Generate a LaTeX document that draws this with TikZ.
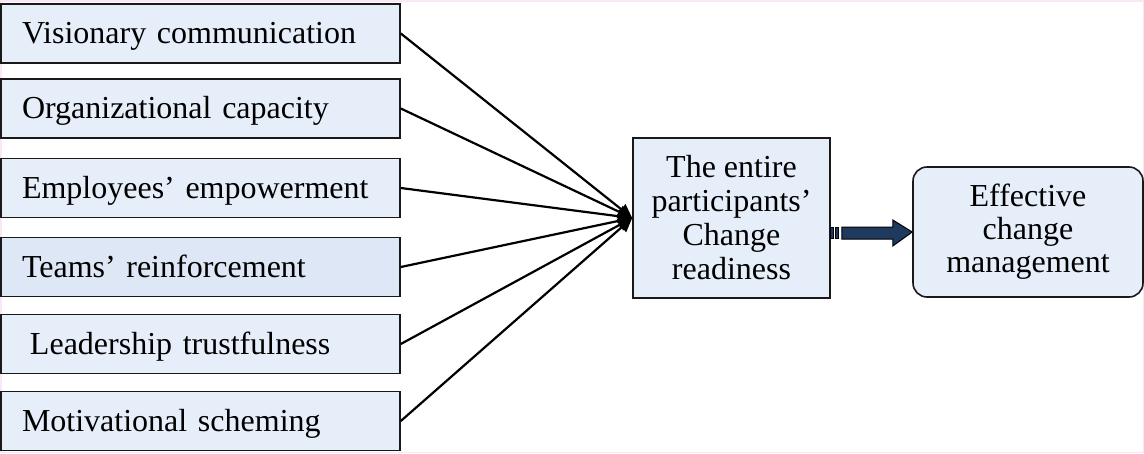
\documentclass[tikz,border=0pt]{standalone}
\usepackage{fontspec}
\setmainfont{Liberation Serif}
\usetikzlibrary{arrows.meta,calc}
\definecolor{boxfill}{HTML}{E6EEF9}
\definecolor{boxfillb}{HTML}{DDE7F5}
\definecolor{navy}{HTML}{1F3A5F}
\definecolor{framepink}{HTML}{FBE6F6}
\begin{document}
\begin{tikzpicture}[x=1pt,y=-1pt,
  factor/.style={draw=black!90, line width=1.6pt, fill=boxfill,
    minimum width=399pt, minimum height=59pt, text width=357pt,
    inner xsep=21pt, inner ysep=0pt, align=left,
    text height=23pt, text depth=3pt, font=\fontsize{32}{34}\selectfont},
  core/.style={draw=black!90, line width=1.6pt, fill=boxfill,
    minimum width=197pt, minimum height=160pt, inner sep=0pt,
    align=center, font=\fontsize{32}{34}\selectfont},
  outcome/.style={core, rounded corners=14pt, minimum width=230pt,
    minimum height=130pt, font=\fontsize{32}{33}\selectfont},
  link/.style={black, line width=2.2pt, -{Triangle[length=14pt,width=13pt]}},
  bigarrow/.style={fill=navy, draw=black, line width=1pt}
]
\useasboundingbox (0,0) rectangle (1144,453);
\draw[framepink, line width=1.5pt] (0.75,0.75) rectangle (1143.25,452.25);

\node[factor] (f1) at (200.5,33.5) {Visionary communication};
\node[factor] (f2) at (200.5,108.5) {Organizational capacity};
\node[factor] (f3) at (200.5,188) {Employees’ empowerment};
\node[factor, fill=boxfillb] (f4) at (200.5,267) {Teams’ reinforcement};
\node[factor] (f5) at (200.5,344) {\hspace*{8pt}Leadership trustfulness};
\node[factor] (f6) at (200.5,421) {Motivational scheming};

\node[core] (mid) at (731.5,218) {The entire\\participants’\\Change\\readiness};
\node[outcome] (eff) at (1028,232) {Effective\\change\\management};

\foreach \i in {1,...,6} \draw[link] (f\i.east) -- (mid.west);

\coordinate (a0) at (mid.east |- eff.west);
\filldraw[bigarrow] ($(a0)+(0,-5)$) rectangle ($(a0)+(3,6)$);
\filldraw[bigarrow] ($(a0)+(5,-5)$) rectangle ($(a0)+(8,6)$);
\filldraw[bigarrow] ($(a0)+(11,-5)$) -- ($(a0)+(62,-5)$) -- ($(a0)+(62,-12)$)
  -- (eff.west) -- ($(a0)+(62,14)$) -- ($(a0)+(62,7)$) -- ($(a0)+(11,7)$) -- cycle;
\end{tikzpicture}
\end{document}
